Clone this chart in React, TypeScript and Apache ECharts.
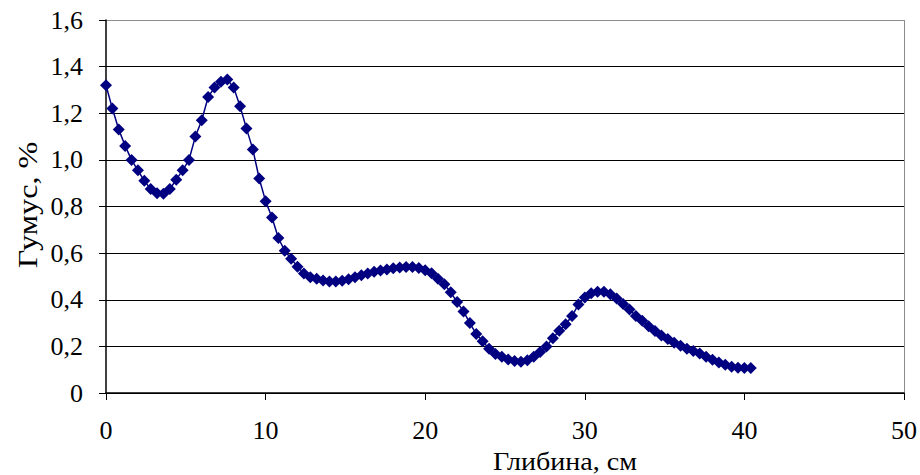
import React, { useEffect, useRef } from "react";
import * as echarts from "echarts";

const depthCm: number[] = [
  0, 0.4, 0.8, 1.2, 1.6, 2.0, 2.4, 2.8, 3.2, 3.6, 4.0, 4.4, 4.8, 5.2, 5.6, 6.0, 6.4, 6.8, 7.2, 7.6,
  8.0, 8.4, 8.8, 9.2, 9.6, 10.0, 10.4, 10.8, 11.2, 11.6, 12.0, 12.4, 12.8, 13.2, 13.6, 14.0, 14.4, 14.8, 15.2, 15.6,
  16.0, 16.4, 16.8, 17.2, 17.6, 18.0, 18.4, 18.8, 19.2, 19.6, 20.0, 20.4, 20.8, 21.2, 21.6, 22.0, 22.4, 22.8, 23.2, 23.6,
  24.0, 24.4, 24.8, 25.2, 25.6, 26.0, 26.4, 26.8, 27.2, 27.6, 28.0, 28.4, 28.8, 29.2, 29.6, 30.0, 30.4, 30.8, 31.2, 31.6,
  32.0, 32.4, 32.8, 33.2, 33.6, 34.0, 34.4, 34.8, 35.2, 35.6, 36.0, 36.4, 36.8, 37.2, 37.6, 38.0, 38.4, 38.8, 39.2, 39.6,
  40.0, 40.4,
];

const humusPct: number[] = [
  1.32, 1.22, 1.13, 1.06, 1.0, 0.955, 0.91, 0.875, 0.857, 0.855, 0.875, 0.915, 0.955, 1.0, 1.1, 1.17, 1.27, 1.31, 1.335, 1.345,
  1.31, 1.23, 1.135, 1.045, 0.92, 0.823, 0.753, 0.665, 0.61, 0.576, 0.542, 0.513, 0.497, 0.49, 0.483, 0.478, 0.478, 0.482, 0.488, 0.496,
  0.505, 0.513, 0.52, 0.525, 0.53, 0.535, 0.538, 0.54, 0.54, 0.536, 0.527, 0.514, 0.49, 0.466, 0.432, 0.39, 0.35, 0.3, 0.253, 0.222,
  0.19, 0.167, 0.155, 0.144, 0.137, 0.134, 0.14, 0.156, 0.176, 0.2, 0.235, 0.267, 0.295, 0.33, 0.38, 0.41, 0.428, 0.434, 0.434, 0.424,
  0.405, 0.382, 0.358, 0.33, 0.31, 0.286, 0.266, 0.247, 0.232, 0.216, 0.203, 0.19, 0.18, 0.169, 0.156, 0.143, 0.131, 0.121, 0.113, 0.108,
  0.107, 0.107,
];

const xAxisName = "Глибина, см";
const yAxisName = "Гумус, %";

const FONT = "'Liberation Serif', 'Times New Roman', serif";

export default function App() {
  const ref = useRef<HTMLDivElement>(null);
  useEffect(() => {
    if (!ref.current) return;
    const chart = echarts.init(ref.current, null, { renderer: "svg" });
    const data = depthCm.map((x, i) => [x, humusPct[i]]);
    chart.setOption({
      animation: false,
      backgroundColor: "#ffffff",
      grid: { left: 106, right: 16, top: 20, bottom: 82, containLabel: false, outerBoundsMode: "none" },
      graphic: [
        {
          type: "text",
          x: 565,
          y: 461,
          scaleX: 1.08,
          style: {
            text: xAxisName,
            fontFamily: FONT,
            fontSize: 26,
            fill: "#000",
            align: "center",
            verticalAlign: "middle",
          },
        },
        {
          type: "text",
          x: 28,
          y: 205,
          rotation: Math.PI / 2,
          scaleX: 1.15,
          style: {
            text: yAxisName,
            fontFamily: FONT,
            fontSize: 28,
            fill: "#000",
            align: "center",
            verticalAlign: "middle",
          },
        },
      ],
      xAxis: {
        type: "value",
        min: 0,
        max: 50,
        interval: 10,
        axisLine: { show: true, onZero: false, lineStyle: { color: "#000", width: 1.5 } },
        axisTick: { show: true, inside: false, length: 7, lineStyle: { color: "#000", width: 1 } },
        axisLabel: {
          fontFamily: FONT,
          fontSize: 26,
          color: "#000",
          margin: 24,
        },
        splitLine: {
          show: true,
          lineStyle: {
            color: ["transparent", "transparent", "transparent", "transparent", "transparent", "#8c8c8c"],
            width: 1,
          },
        },
      },
      yAxis: {
        type: "value",
        min: 0,
        max: 1.6,
        interval: 0.2,
        axisLine: { show: true, onZero: false, lineStyle: { color: "#000", width: 1.5 } },
        axisTick: { show: true, inside: false, length: 7, lineStyle: { color: "#000", width: 1 } },
        axisLabel: {
          fontFamily: FONT,
          fontSize: 26,
          color: "#000",
          margin: 23,
          formatter: (v: number) => (v === 0 ? "0" : v.toFixed(1).replace(".", ",")),
        },
        splitLine: {
          show: true,
          lineStyle: {
            color: ["#000", "#000", "#000", "#000", "#000", "#000", "#000", "#000", "#8c8c8c"],
            width: 1,
          },
        },
      },
      series: [
        {
          type: "line",
          data,
          symbol: "diamond",
          symbolSize: 12,
          showAllSymbol: true,
          itemStyle: { color: "#000080" },
          lineStyle: { color: "#000080", width: 1.5 },
        },
      ],
    });
    return () => chart.dispose();
  }, []);
  return (
    <div
      ref={ref}
      style={{ position: "fixed", left: 0, top: 0, width: 920, height: 475, background: "#fff" }}
    />
  );
}
